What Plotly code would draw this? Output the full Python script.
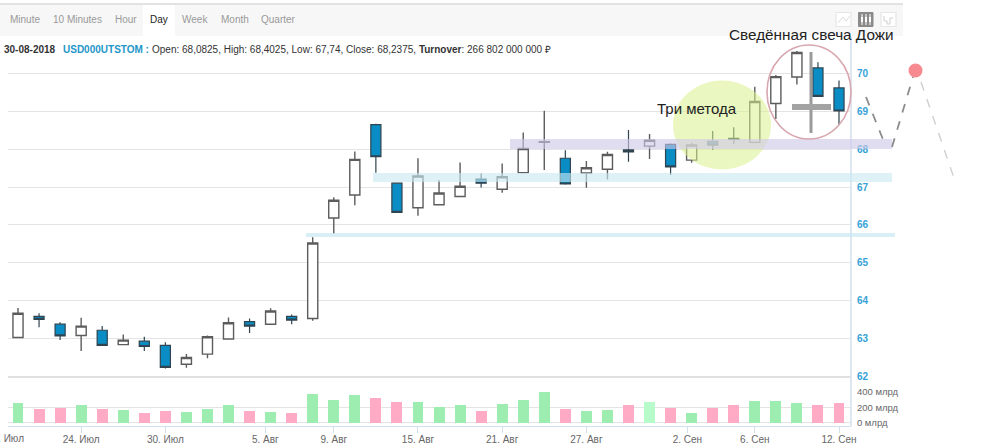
import plotly.graph_objects as go

W, H = 1000, 445

# ---------- data ----------
slots = list(range(40))
open_ = [63.02,63.58,63.37,63.07,63.21,62.83,62.92,62.81,62.31,62.58,
         62.98,63.44,63.37,63.58,63.52,66.18,66.79,68.65,67.10,66.45,
         66.53,66.75,67.21,66.94,67.38,68.18,67.76,67.37,67.47,67.98,
         68.0825,68.13,67.71,68.21,68.29,68.18,69.21,69.91,70.15,69.62]
high = [63.80,63.66,63.42,63.54,63.32,63.10,63.04,62.89,62.58,63.07,
        63.55,63.52,63.79,63.63,65.67,66.73,67.94,68.67,67.10,67.76,
        67.18,67.65,67.36,67.62,68.44,69.02,67.97,67.69,67.93,68.51,
        68.4025,68.15,68.17,68.48,68.58,69.65,69.96,70.60,70.30,69.82]
low = [63.02,63.29,62.95,62.66,62.81,62.83,62.66,62.20,62.22,62.47,
       62.98,63.14,63.37,63.37,63.46,65.76,66.52,67.38,66.33,66.24,
       66.53,66.75,66.99,66.85,67.38,67.45,67.06,66.98,67.20,67.67,
       67.74,67.32,67.64,67.98,68.14,68.18,68.80,69.71,69.40,68.64]
close = [63.66,63.50,63.06,63.32,62.81,62.95,62.78,62.23,62.49,63.04,
         63.41,63.32,63.72,63.48,65.52,66.65,67.73,67.80,66.33,67.29,
         66.84,67.02,67.10,67.27,68.02,68.20,67.08,67.51,67.86,67.93,
         68.2375,67.53,68.11,68.11,68.26,69.26,69.92,70.56,69.40,69.01]
turnover = [262,176,198,232,176,163,133,150,142,176,
            232,150,142,125,370,292,365,326,265,265,
            200,226,152,243,296,400,183,152,165,226,
            265,196,135,196,235,283,283,252,226,252]
turnover_kind = ["g","p","p","g","p","g","p","p","g","g",
                 "g","p","g","p","g","g","g","p","p","g",
                 "g","g","p","g","g","g","p","g","g","p",
                 "h","p","g","p","p","g","g","g","p","p"]
tick_slots = [3, 7, 11.75, 15, 19, 23, 27, 31.8, 35, 39]
tick_labels = ["24. Июл","30. Июл","5. Авг","9. Авг","15. Авг","21. Авг",
               "27. Авг","2. Сен","6. Сен","12. Сен"]
price_ticks = [62,63,64,65,66,67,68,69,70]
turnover_ticks = [0,200,400]
periods = ["Minute","10 Minutes","Hour","Day","Week","Month","Quarter"]
period_x = [25,77.5,125.5,159,194.5,235,278.5]

# ---------- helpers: pixel to paper (margins are zero) ----------
px = lambda x: x / W
py = lambda y: 1 - y / H
FONT = "Liberation Sans"
GRID = "#e4e4e4"
AXIS = "#d3deec"

kind_color = {"g": "#9eedb0", "p": "#ffabc6", "h": "#b8fbcb"}

fig = go.Figure()
fig.add_trace(go.Candlestick(
    x=slots, open=open_, high=high, low=low, close=close,
    xaxis="x", yaxis="y", whiskerwidth=0,
    increasing=dict(fillcolor="#ffffff", line=dict(color="#5c5c5c", width=1.4)),
    decreasing=dict(fillcolor="#0a8cc4", line=dict(color="#2f4450", width=1.2)),
    hoverinfo="skip",
))
fig.add_trace(go.Bar(
    x=slots, y=turnover, xaxis="x2", yaxis="y2", width=0.52,
    marker=dict(color=[kind_color[k] for k in turnover_kind], line=dict(width=0)),
    hoverinfo="skip",
))

shapes = []
def rect(x0, y0, x1, y1, fill, layer="below", opacity=1, line=None):
    shapes.append(dict(type="rect", xref="paper", yref="paper",
                       x0=px(x0), x1=px(x1), y0=py(y0), y1=py(y1),
                       fillcolor=fill, opacity=opacity, layer=layer,
                       line=line or dict(width=0)))
def seg(x0, y0, x1, y1, color, width=1, dash="solid", layer="above"):
    shapes.append(dict(type="line", xref="paper", yref="paper",
                       x0=px(x0), x1=px(x1), y0=py(y0), y1=py(y1), layer=layer,
                       line=dict(color=color, width=width, dash=dash)))
def ellipse(cx, cy, rx, ry, fill="rgba(0,0,0,0)", line=None, opacity=1):
    shapes.append(dict(type="circle", xref="paper", yref="paper",
                       x0=px(cx-rx), x1=px(cx+rx), y0=py(cy+ry), y1=py(cy-ry),
                       fillcolor=fill, opacity=opacity, layer="above",
                       line=line or dict(width=0)))

# toolbar
rect(0, 3, 903, 5, "#e2e2e2")
rect(0, 5, 903, 36, "#f7f7f7")
rect(143, 5, 175, 36, "#ffffff")
seg(851, 36, 851, 426, AXIS, 1.5, layer="below")

# icons
for x0 in (836, 881):
    rect(x0, 12.5, x0+15, 26.5, "#ffffff", line=dict(color="#e6e6e6", width=1.2))
rect(858.5, 12.5, 873, 26.5, "#8a8a8a", line=dict(color="#8a8a8a", width=1))
for cx in (862, 866, 870):
    seg(cx, 14, cx, 25, "#ffffff", 1)
    rect(cx-1, 17, cx+1, 22, "#ffffff")
shapes.append(dict(type="path", xref="paper", yref="paper", layer="above",
    path=f"M {px(838)} {py(23)} L {px(843)} {py(17)} L {px(846)} {py(21)} L {px(850)} {py(16)}",
    line=dict(color="#dcdcdc", width=1)))
shapes.append(dict(type="path", xref="paper", yref="paper", layer="above",
    path=f"M {px(884)} {py(16)} L {px(884)} {py(21)} L {px(887)} {py(21)} L {px(887)} {py(24)} "
         f"L {px(890)} {py(24)} L {px(890)} {py(18)} L {px(893)} {py(18)}",
    line=dict(color="#cfcfcf", width=1)))

# overlay drawings
ellipse(722, 125, 49, 44.5, fill="#d8f08c", opacity=0.55)
rect(510, 139, 892, 149, "#cfc8e8", layer="above", opacity=0.62)
rect(373, 173, 892, 182, "#c8e8f2", layer="above", opacity=0.62)
rect(306, 233, 895, 237, "#c8e8f2", layer="above", opacity=0.7)
ellipse(809, 92, 42, 47, line=dict(color="#d8a6ae", width=1.6))
seg(811, 52, 811, 133, "#9a9a9a", 3)
seg(792, 107, 831, 107, "#a3a3a3", 6)
seg(866, 97, 886, 147, "#8c8c8c", 1.8, "dash")
seg(892, 147, 913, 77, "#8c8c8c", 1.8, "dash")
seg(921, 82, 955, 181, "#cfcfcf", 1.4, "dash")
ellipse(915.5, 70.5, 7, 7, fill="#f78a90")

# texts
ann = []
def text(x, y, s, size, color="#333333", anchor="center", **font):
    ann.append(dict(xref="paper", yref="paper", x=px(x), y=py(y), text=s,
                    xanchor=anchor, yanchor="middle", showarrow=False,
                    font=dict(family=FONT, size=size, color=color, **font),
                    xshift=0, yshift=0, borderpad=0, borderwidth=0))
for lab, x in zip(periods, period_x):
    text(x, 19.5, lab, 10, "#222222" if lab == "Day" else "#999999")
text(4, 49.5, "<b>30-08-2018</b>", 10, "#333333", "left")
text(63, 49.5, "<b>USD000UTSTOM :</b>", 10, "#1e96c8", "left")
text(152, 49.5, "Open: 68,0825, High: 68,4025, Low: 67,74, Close: 68,2375, <b>Turnover</b>: 266 802 000 000 ₽",
     10, "#333333", "left")
text(697, 108.5, "Три метода", 15, "#222222")
text(811, 35, "Сведённая свеча Дожи", 15.3, "#222222")
text(24, 438, "18. Июл", 10, "#666666", "right")

x_range = [-0.475, 39.57]
fig.update_layout(
    width=W, height=H, showlegend=False, autosize=False,
    margin=dict(l=0, r=0, t=0, b=0, pad=0),
    paper_bgcolor="#ffffff", plot_bgcolor="rgba(0,0,0,0)",
    boxgap=0.52, boxgroupgap=0, bargap=0,
    shapes=shapes, annotations=ann,
    xaxis=dict(domain=[px(8), px(851)], range=x_range, anchor="y", automargin=False,
               rangeslider=dict(visible=False), showgrid=False, showticklabels=False,
               ticks="", zeroline=False, showline=True, linecolor="#e0e0e0", linewidth=2),
    xaxis2=dict(domain=[px(8), px(851)], range=x_range, anchor="y2", automargin=False,
                showgrid=False, zeroline=False, showline=True, linecolor=AXIS, linewidth=1.2,
                tickmode="array", tickvals=tick_slots, ticktext=tick_labels,
                ticks="outside", ticklen=6, tickcolor=AXIS, tickwidth=1, ticklabelstandoff=-2,
                tickfont=dict(family=FONT, size=10, color="#666666")),
    yaxis=dict(domain=[py(376), py(37)], range=[62, 62 + (376-37)/37.8], anchor="x", side="right",
               automargin=False,
               tickmode="array", tickvals=price_ticks, showgrid=True, gridcolor=GRID, gridwidth=1.4,
               zeroline=False, showline=False, ticks="outside", ticklen=3, tickcolor="rgba(0,0,0,0)",
               tickfont=dict(family=FONT, size=10, color="#36a2d6", weight="bold")),
    yaxis2=dict(domain=[py(426), py(391)], range=[-38.7, 412], anchor="x2", side="right",
                automargin=False,
                tickmode="array", tickvals=turnover_ticks,
                ticktext=[f"{t} млрд" for t in turnover_ticks],
                showgrid=True, gridcolor=GRID, gridwidth=1.4, zeroline=False, showline=False,
                ticks="outside", ticklen=3, tickcolor="rgba(0,0,0,0)",
                tickfont=dict(family=FONT, size=9.5, color="#666666")),
)
fig.write_html("out.html", config=dict(displayModeBar=False),
               post_script="document.body.style.margin='0';document.documentElement.style.overflow='hidden';")
